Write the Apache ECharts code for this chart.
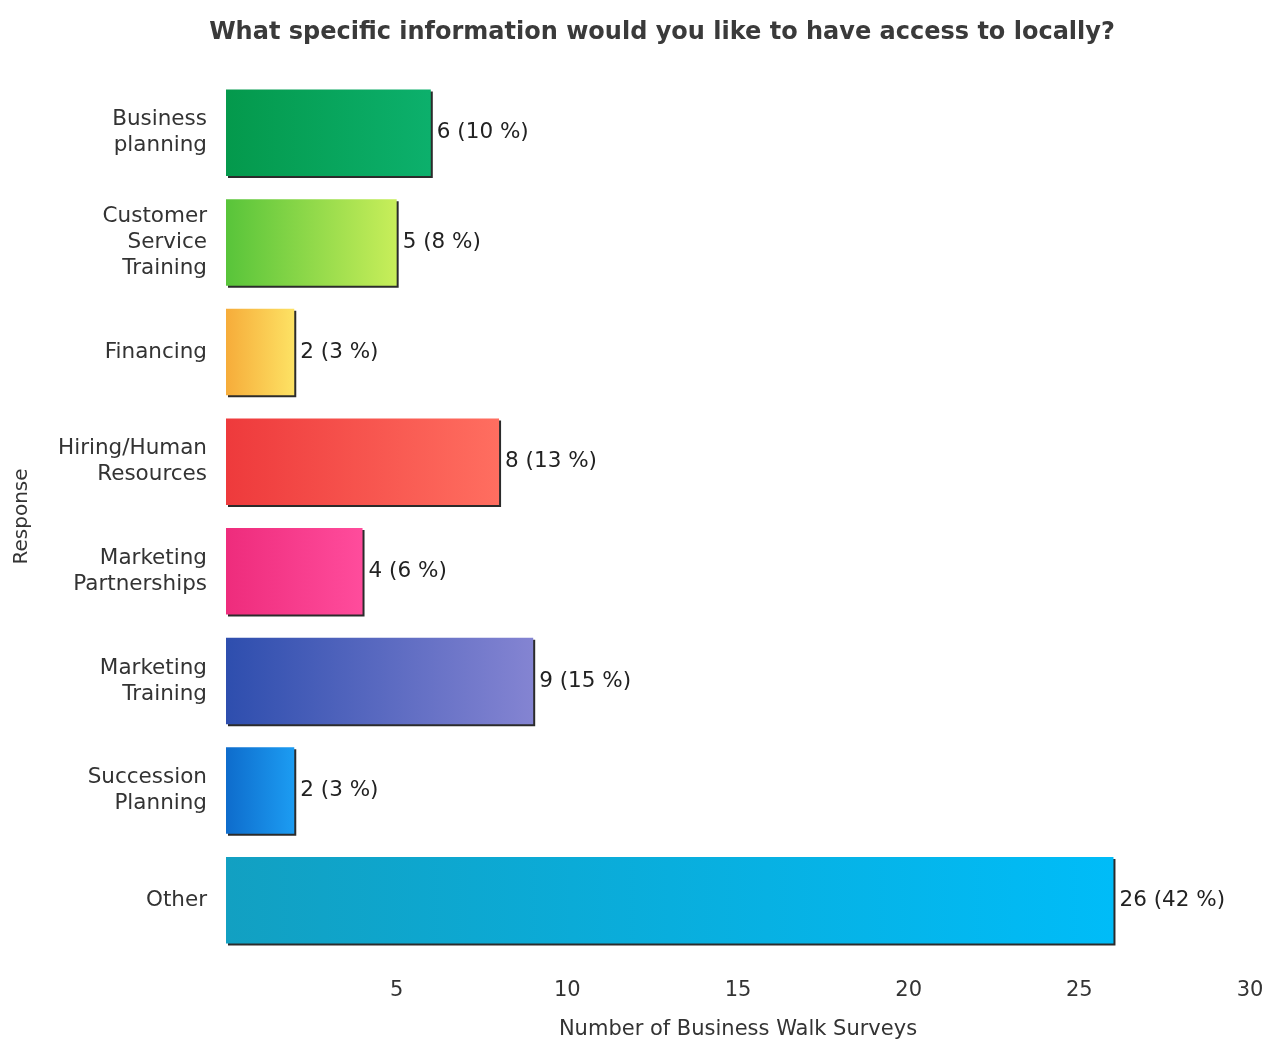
<!DOCTYPE html>
<html>
<head>
<meta charset="utf-8">
<script src="https://cdn.jsdelivr.net/npm/echarts@6/dist/echarts.min.js"></script>
<style>
  html, body { margin: 0; padding: 0; background: #ffffff; }
  #chart { width: 1275px; height: 1042px; }
</style>
</head>
<body>
<div id="chart"></div>
<script>
// Survey responses: counts and share of all answers
const categories = [
  'Business\nplanning',
  'Customer\nService\nTraining',
  'Financing',
  'Hiring/Human\nResources',
  'Marketing\nPartnerships',
  'Marketing\nTraining',
  'Succession\nPlanning',
  'Other'
];
const counts = [6, 5, 2, 8, 4, 9, 2, 26];
const percents = [10, 8, 3, 13, 6, 15, 3, 42];
const xTicks = [5, 10, 15, 20, 25, 30];

// left-to-right gradient stops for each bar
const barColors = [
  ['#04994c', '#0cb06c'],
  ['#58c43a', '#c8ee5a'],
  ['#f6ac3a', '#fde264'],
  ['#ee3a3c', '#ff6e60'],
  ['#ee2c7c', '#ff4c9c'],
  ['#2e4eae', '#8484d2'],
  ['#0e6ccc', '#1c9cf2'],
  ['#12a0c2', '#00bcf8']
];

const font = 'DejaVu Sans';

const chart = echarts.init(document.getElementById('chart'), null, { renderer: 'canvas' });

chart.setOption({
  backgroundColor: '#ffffff',
  animation: false,
  title: {
    text: 'What specific information would you like to have access to locally?',
    left: 657,
    top: 16,
    textAlign: 'center',
    textStyle: {
      fontFamily: 'DejaVu Sans',
      fontWeight: 'bold',
      fontSize: 24,
      color: '#3a3a3a'
    }
  },
  grid: {
    left: 226,
    right: 25,
    top: 78,
    bottom: 87,
    containLabel: false,
    outerBoundsMode: 'none'
  },
  xAxis: {
    type: 'value',
    min: 0,
    max: 30,
    interval: 5,
    name: 'Number of Business Walk Surveys',
    nameLocation: 'middle',
    nameGap: 64,
    nameTextStyle: { fontFamily: font, fontSize: 21, color: '#333333' },
    axisLine: { show: false },
    axisTick: { show: false },
    splitLine: { show: false },
    axisLabel: {
      fontFamily: font,
      fontSize: 21,
      color: '#333333',
      margin: 25,
      formatter: v => (xTicks.indexOf(v) >= 0 ? String(v) : '')
    }
  },
  yAxis: {
    type: 'category',
    data: categories,
    inverse: true,
    name: 'Response',
    nameLocation: 'middle',
    nameGap: 194,
    nameRotate: 90,
    nameTextStyle: { fontFamily: font, fontSize: 20, color: '#333333' },
    axisLine: { show: false },
    axisTick: { show: false },
    splitLine: { show: false },
    axisLabel: {
      fontFamily: font,
      fontSize: 21.5,
      color: '#333333',
      lineHeight: 26,
      align: 'right',
      margin: 19
    }
  },
  series: [{
    type: 'bar',
    barCategoryGap: '21%',
    data: counts.map((v, i) => ({
      value: v,
      itemStyle: {
        color: new echarts.graphic.LinearGradient(0, 0, 1, 0, [
          { offset: 0, color: barColors[i][0] },
          { offset: 1, color: barColors[i][1] }
        ]),
        shadowColor: 'rgba(20,20,20,0.9)',
        shadowOffsetX: 2,
        shadowOffsetY: 2,
        shadowBlur: 0
      }
    })),
    label: {
      show: true,
      position: 'right',
      distance: 6,
      fontFamily: font,
      fontSize: 21.5,
      color: '#222222',
      formatter: p => p.value + ' (' + percents[p.dataIndex] + ' %)'
    }
  }]
});
</script>
</body>
</html>
